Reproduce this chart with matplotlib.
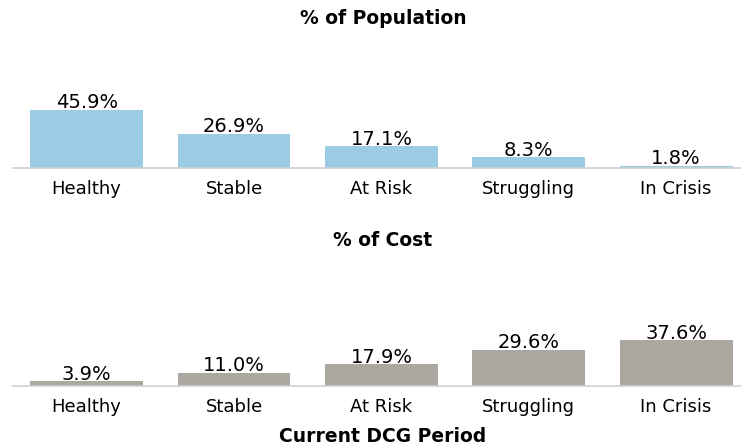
"""Population share vs cost share by health segment."""

import matplotlib

matplotlib.use("Agg")
import matplotlib.pyplot as plt

categories = ["Healthy", "Stable", "At Risk", "Struggling", "In Crisis"]
population_pct = [45.9, 26.9, 17.1, 8.3, 1.8]
cost_pct = [3.9, 11.0, 17.9, 29.6, 37.6]

W, H = 741, 446
fig = plt.figure(figsize=(W / 100, H / 100), dpi=100)
plt.rcParams["font.family"] = ["DejaVu Sans"]


def panel(baseline_px, px_per_pct, values, color):
    top_px = baseline_px - 50 * px_per_pct
    ax = fig.add_axes([13 / W, (H - baseline_px) / H, 728 / W,
                       (baseline_px - top_px) / H])
    x = range(len(categories))
    bars = ax.bar(x, values, width=0.766, color=color)
    for bar, v in zip(bars, values):
        ax.annotate(f"{v:.1f}%", (bar.get_x() + bar.get_width() / 2, v),
                    xytext=(0, 1), textcoords="offset points",
                    ha="center", va="baseline", fontsize=14)
    ax.set_xlim(-0.5, 4.44)
    ax.set_ylim(0, 50)
    ax.set_xticks(list(x))
    ax.set_xticklabels(categories, fontsize=13)
    ax.tick_params(axis="x", length=0, pad=8.5)
    ax.set_yticks([])
    for side in ("top", "right", "left"):
        ax.spines[side].set_visible(False)
    ax.spines["bottom"].set_color("#d0d0d0")
    ax.spines["bottom"].set_linewidth(1.2)
    ax.patch.set_alpha(0)
    return ax


panel(168, 1.27, population_pct, "#9bcce3")
panel(386, 1.22, cost_pct, "#aca7a0")

fig.text(383 / W, 1 - 19 / H, "% of Population", ha="center", va="center",
         fontsize=13.5, fontweight="bold")
fig.text(383 / W, 1 - 240 / H, "% of Cost", ha="center", va="center",
         fontsize=13.5, fontweight="bold")
fig.text(383 / W, 1 - 437 / H, "Current DCG Period", ha="center",
         va="center", fontsize=13.5, fontweight="bold")

fig.savefig("out.png", dpi=100)
